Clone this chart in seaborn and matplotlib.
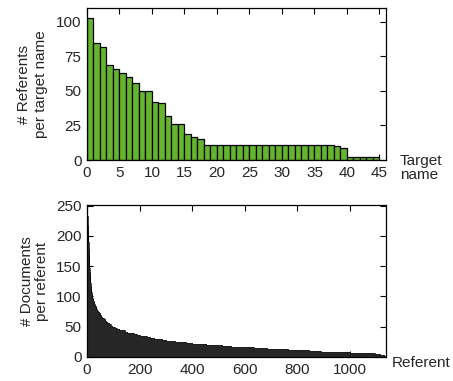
import numpy as np
import pandas as pd
import matplotlib
matplotlib.use('Agg')
import matplotlib.pyplot as plt
import seaborn as sns

# Referents per target name (top panel), one value per target name
referents_per_name = [103, 85, 82, 69, 66, 63, 60, 56, 50, 50,
                      42, 41, 32, 26, 26, 19, 17, 15, 11, 11,
                      11, 11, 11, 11, 11, 11, 11, 11, 11, 11,
                      11, 11, 11, 11, 11, 11, 11, 11, 10, 9,
                      2, 2, 2, 2, 2]

# Documents per referent (bottom panel), read off as plateaus:
# doc_levels[i] documents for doc_runs[i] consecutive referents
doc_levels = [250, 232, 218, 207, 201, 190, 178, 166, 155, 147, 140, 134, 128, 122, 117, 112,
              110, 107, 104, 101, 99, 97, 95, 93, 92, 91, 90, 89, 88,
              86, 84, 82, 80, 78, 76, 74, 72, 70, 68, 66, 64,
              62, 60, 58, 56, 54, 52, 50, 48, 46, 45, 44,
              42, 40, 39, 38, 36, 35, 34, 33, 31, 30, 29, 28,
              27, 26, 25, 24, 23, 22, 21, 20, 19, 18, 17, 16,
              15, 14, 13, 12, 11, 10, 9, 8, 7, 6, 5, 4, 3, 2, 1]
doc_runs = [1, 1, 1, 1, 1, 1, 1, 1, 1, 1, 1, 1, 1, 1, 1, 1,
            1, 1, 1, 1, 1, 1, 1, 1, 1, 1, 1, 1, 1,
            2, 2, 2, 2, 3, 3, 3, 3, 3, 3, 4, 4,
            5, 5, 5, 6, 6, 7, 8, 8, 10, 10, 10,
            10, 12, 12, 12, 12, 12, 14, 14, 15, 15, 15, 15,
            15, 18, 20, 22, 25, 25, 28, 30, 30, 35, 40, 45,
            50, 45, 35, 40, 40, 45, 50, 60, 50, 45, 20, 10, 6, 4, 2]

docs = np.repeat(doc_levels, doc_runs)

top_df = pd.DataFrame({'name': np.arange(len(referents_per_name)) + 0.5,
                       'referents': referents_per_name})
bot_df = pd.DataFrame({'referent': np.arange(len(docs)) + 0.5,
                       'documents': docs})

sns.set_style('ticks')
plt.rcParams['font.family'] = ['Liberation Sans', 'DejaVu Sans']
plt.rcParams['font.size'] = 11

fig = plt.figure(figsize=(4.53, 3.81), dpi=100)
ax1 = fig.add_axes([0.192, 0.580, 0.660, 0.399])
ax2 = fig.add_axes([0.192, 0.063, 0.660, 0.399])

# top: referents per target name
sns.barplot(data=top_df, x='name', y='referents', native_scale=True, width=1,
            color='#64b42f', saturation=1, edgecolor='black', linewidth=0.9, ax=ax1)
ax1.set_xlim(0, 46)
ax1.set_ylim(0, 110)
ax1.set_xticks(range(0, 46, 5))
ax1.set_yticks(range(0, 101, 25))
ax1.set_ylabel('# Referents\nper target name', linespacing=1.2, va='center')
ax1.yaxis.set_label_coords(-0.182, 0.5)
ax1.set_xlabel('Target\nname', ha='left', va='center', linespacing=1.0)
ax1.xaxis.set_label_coords(1.047, -0.055)

# bottom: documents per referent
sns.barplot(data=bot_df, x='referent', y='documents', native_scale=True, width=1,
            color='white', saturation=1, edgecolor='black', linewidth=0.5, ax=ax2)
ax2.set_xlim(0, 1137)
ax2.set_ylim(0, 251)
ax2.set_xticks(range(0, 1001, 200))
ax2.set_yticks(range(0, 251, 50))
ax2.set_ylabel('# Documents\nper referent', linespacing=1.1, va='center')
ax2.yaxis.set_label_coords(-0.177, 0.5)
ax2.set_xlabel('Referent', ha='left', va='center')
ax2.xaxis.set_label_coords(1.02, -0.04)

for ax in (ax1, ax2):
    ax.tick_params(direction='in', length=4, width=0.8, top=True, right=True,
                   labelsize=11, pad=4, color='black')
    for s in ax.spines.values():
        s.set_visible(True)
        s.set_linewidth(0.9)
        s.set_color('black')

fig.savefig('out.png', dpi=100)
